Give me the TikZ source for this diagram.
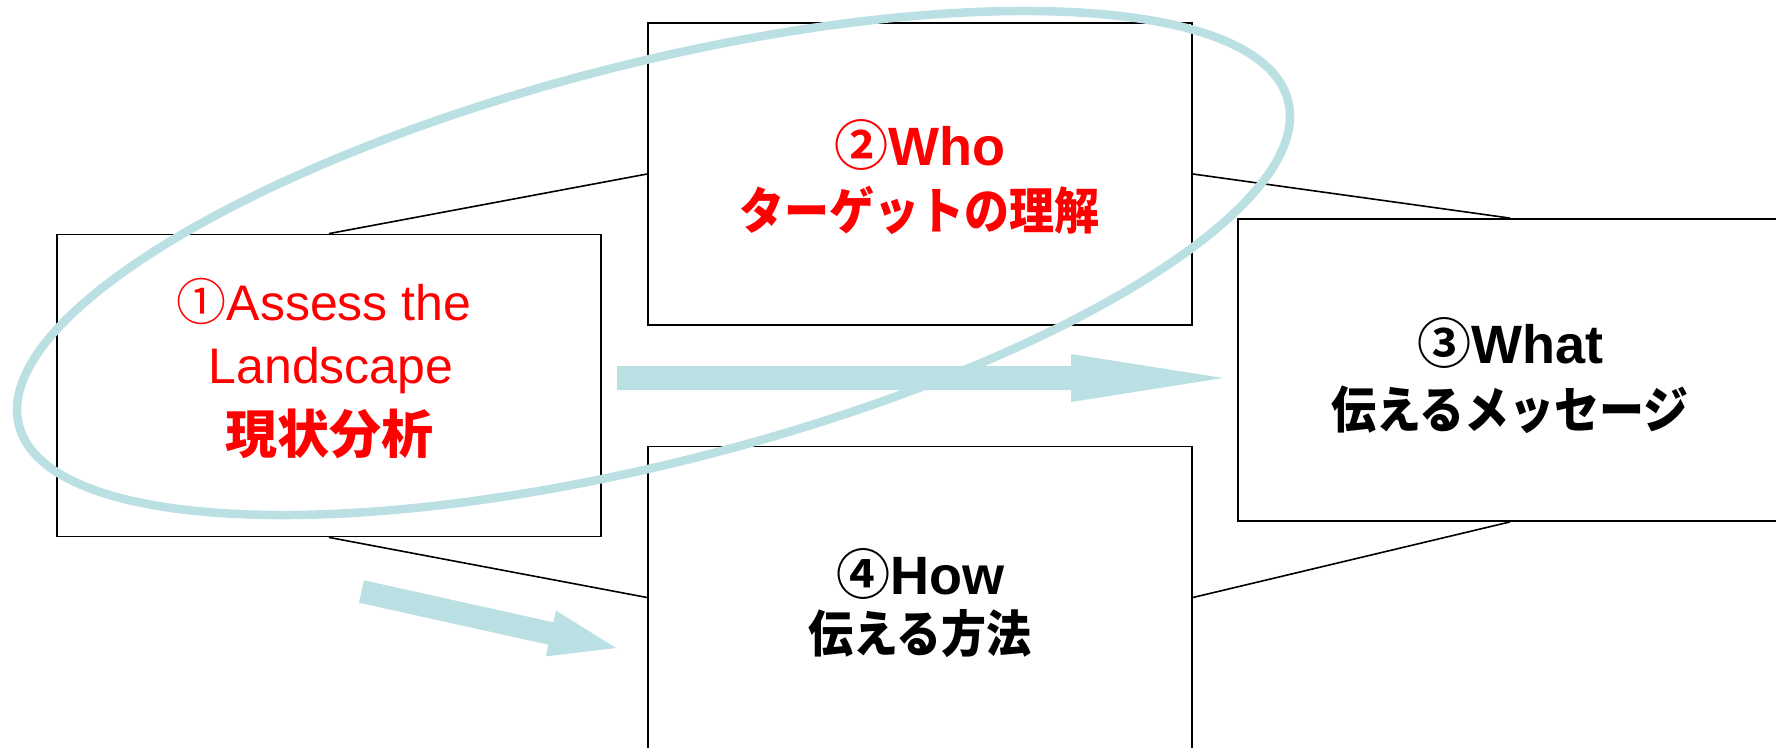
\documentclass[tikz,border=0pt]{standalone}
\usepackage{fontspec}
\newfontfamily\latin{Liberation Sans}
\newfontfamily\jp{Noto Sans CJK JP}[BoldFont={Noto Sans CJK JP Black}, FakeStretch=0.9]
\newfontfamily\jpw{Noto Sans CJK JP}[BoldFont={Noto Sans CJK JP Black}]
\newfontfamily\jpc{Noto Sans CJK JP}[BoldFont={Noto Sans CJK JP Bold}]
\definecolor{lblue}{RGB}{187,224,227}
\definecolor{tred}{RGB}{255,0,0}
\tikzset{
  box/.style={draw=black, line width=1.8pt, fill=white, rectangle, inner sep=0pt,
              minimum width=544pt, minimum height=302pt},
  link/.style={draw=black, line width=1.6pt},
  txt/.style={anchor=base, inner sep=0pt},
  big/.style={font=\fontsize{50}{60}\selectfont},
  wide/.style={font=\fontsize{52}{62}\selectfont},
  head/.style={font=\fontsize{54}{64}\selectfont},
  fat/.style={fill=lblue, draw=none},
  ring/.style={draw=lblue, line width=8.5pt}
}
\begin{document}
\begin{tikzpicture}[x=1pt,y=-1pt]
\useasboundingbox (0,0) rectangle (1776,747);
\fill[white] (0,0) rectangle (1776,747);
\clip (0,0) rectangle (1776,747);
% boxes
\node[box] (b1) at (329,385.5) {};
\node[box] (b2) at (920,174) {};
\node[box] (b3) at (1510,370) {};
\node[box] (b4) at (920,597.5) {};
% connectors
\draw[link] (b1.north) -- (b2.west);
\draw[link] (b2.east) -- (b3.north);
\draw[link] (b1.south) -- (b4.west);
\draw[link] (b4.east) -- (b3.south);
% thick arrow 1
\coordinate (a1s) at (617,378);
\coordinate (a1t) at (1223,378);
\fill[fat] (617,366) -- (1071,366) -- (1071,354) -- (a1t) -- (1071,402) -- (1071,390) -- (617,390) -- cycle;
% thick arrow 2
\coordinate (a2t) at (616,648);
\fill[fat] (364.0,580.3) -- (553.4,622.3) -- (556.0,610.6) -- (a2t) -- (545.8,656.4) -- (548.4,644.7) -- (359.0,602.7) -- cycle;
% ellipse
\draw[ring] (653.5,263) ellipse [x radius=655pt, y radius=199pt, rotate=14.35];
% texts
\node[txt, big, text=tred] (t1a) at (324,320) {{\jpc ①}{\latin Assess the}};
\node[txt, big, text=tred] (t1b) at (331,383) {\latin Landscape};
\node[txt, wide, text=tred] (t1c) at (329,453) {\jpw\bfseries 現状分析};
\node[txt, head, text=tred] (t2a) at (920,165) {{\jpc\bfseries ②}{\latin\bfseries Who}};
\node[txt, big, text=tred] (t2b) at (919,229) {\jp\bfseries ターゲットの理解};
\node[txt, head] (t3a) at (1510,363) {{\jpc\bfseries ③}{\latin\bfseries What}};
\node[txt, big] (t3b) at (1510,428) {\jp\bfseries 伝えるメッセージ};
\node[txt, head] (t4a) at (920,594) {{\jpc\bfseries ④}{\latin\bfseries How}};
\node[txt, big] (t4b) at (920,652) {\jp\bfseries 伝える方法};
\end{tikzpicture}
\end{document}
